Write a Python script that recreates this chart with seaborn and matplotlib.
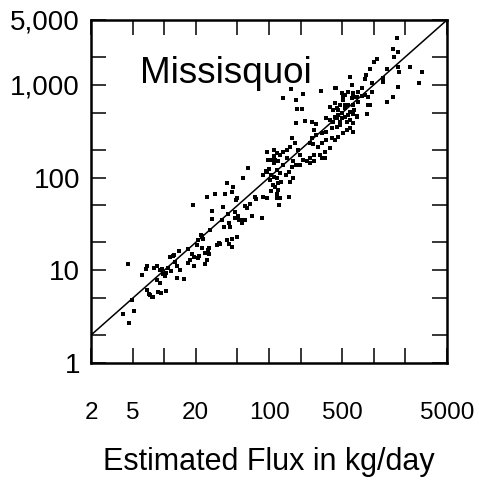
import numpy as np
import pandas as pd
import seaborn as sns
import matplotlib.pyplot as plt
from matplotlib.ticker import NullLocator

sns.set_style("ticks")
plt.rcParams['font.family'] = ['Liberation Sans', 'DejaVu Sans']
plt.rcParams['text.color'] = 'black'
plt.rcParams['axes.labelcolor'] = 'black'

est_flux = [
    # low end
    4.5, 4.0, 5.2, 4.6, 4.9, 6.2, 6.7, 6.9, 8.0, 8.5, 9.1, 9.6, 9.8, 10.2, 10.5,
    10.9, 11.7, 12.0, 11.3, 12.3, 12.8, 13.1, 13.9, 14.1, 8.5, 9.1, 6.9, 7.2, 7.3,
    7.6, 7.8, 8.8, 9.4, 10.5, 13.1, 15.4, 16.9, 16.9, 17.6, 18.3, 19.2, 19.4, 20.8,
    21.6, 22.7, 23.5, 22.2, 24.4, 25.4, 26.3, 24.4, 26.9, 31.7, 34,
    # middle
    18.9, 25.4, 28.3, 28.3, 30.5, 35.3, 36.6, 38.4, 39.4, 40.9, 41.7, 42.4, 44,
    45.6, 47.3, 48.4, 49.8, 51, 52.2, 53.6, 54.9, 56.8, 59, 61.4, 63.7, 65.8, 68.3,
    73.4, 75, 85, 88.3, 95, 96, 98, 94, 100, 104, 108, 114, 118, 122, 122, 118, 118,
    111, 111, 21.1, 22.7, 27.3, 20.4, 26.9, 33.5, 40.1, 41.7, 44, 49.4, 44, 47.3,
    59, 105, 118, 127, 155, 125, 37.1,
    # dense band
    161, 137, 181, 212, 311, 426, 493, 570, 637, 614, 686, 712, 511, 475, 382, 411,
    442, 531, 570, 592, 654, 697, 186, 205, 180, 220, 255, 353, 382, 426, 458, 493,
    531, 551, 592, 637, 475, 442, 395, 353, 318, 282, 271, 255, 246, 265, 294, 318,
    353, 395, 426, 458, 511, 551, 592, 637, 382, 341, 306, 271, 246, 228, 212, 197,
    190, 176, 165, 159, 147, 137, 127, 111, 105, 114, 122, 137, 147, 170, 180, 165,
    154, 144, 127, 118, 111, 102, 95, 88, 131, 159, 170, 197, 246, 271, 318, 341, 282,
    # high end
    1650, 1514, 1715, 1548, 1063, 1000, 919, 841, 820, 1324, 1715, 1738, 2214, 2862,
    2715, 1715, 1514, 1324, 1231, 1231, 954, 778, 712, 614, 592, 435, 531, 511, 637,
    767, 820, 884, 954, 919, 637, 531, 426, 458, 493, 570, 637, 686, 863, 404, 442,
    475, 874,
]
obs_flux = [
    # low end
    11.6, 3.4, 3.6, 2.7, 4.8, 8.9, 10.3, 11.2, 10.5, 11.2, 10.1, 10.3, 9.1, 8.6, 9.3,
    10.5, 9.7, 14.3, 14.0, 14.6, 12.2, 11.2, 16.3, 10.1, 7.9, 7.3, 6.1, 5.6, 5.4,
    5.2, 5.1, 5.8, 5.7, 6.0, 8.2, 8.1, 17.0, 11.9, 12.9, 14.9, 11.2, 14.0, 13.5,
    14.3, 17.3, 21.9, 23.8, 15.3, 12.9, 16.6, 11.7, 14.9, 18.6, 19.1,
    # middle
    50, 62, 44, 35.6, 67, 35, 48, 67, 87, 40, 32.7, 29.3, 69,
    80, 43, 57, 60, 38, 35, 35, 32, 98, 49, 47, 126, 52, 38,
    62, 58, 36.5, 62, 59.5, 190, 155, 119, 123, 107, 83, 80, 98, 73, 87, 59.5, 183,
    169, 143, 21, 23.2, 27, 18.6, 17.3, 19.6, 21.3, 19.2, 21.9, 22.7, 17.8, 36.5,
    35, 71, 67, 60, 62, 50, 29.3,
    # dense band
    900, 717, 687, 792, 860, 919, 812, 845, 812, 717, 747, 658, 687, 607, 580, 536,
    558, 558, 607, 515, 536, 454, 549, 549, 385, 408, 400, 436, 418, 454, 473, 436,
    454, 400, 418, 385, 369, 355, 340, 312, 300, 288, 326, 265, 234, 228, 215, 234,
    254, 265, 254, 276, 300, 326, 340, 312, 208, 190, 176, 176, 162, 149, 155, 176,
    199, 234, 265, 215, 199, 190, 176, 199, 155, 155, 149, 137, 162, 149, 137, 131,
    116, 107, 112, 121, 102, 94, 116, 107, 90, 90, 98, 137, 143, 150, 162, 162, 380,
    # high end
    3235, 2440, 2280, 2017, 1903, 1754, 1485, 1281, 1150, 1475, 1567, 1388, 1567, 1388,
    1058, 958, 747, 658, 1178, 1069, 1041, 919, 845, 997, 1228, 933, 778, 747, 730,
    758, 778, 747, 845, 607, 607, 607, 637, 536, 494, 473, 484, 462, 484, 400, 436,
    400, 607,
]

x_ticks = [2, 5, 10, 20, 50, 100, 200, 500, 1000, 2000, 5000]
x_tick_labels = ['2', '5', '', '20', '', '100', '', '500', '', '', '5000']
y_ticks = [1, 2, 5, 10, 20, 50, 100, 200, 500, 1000, 2000, 5000]
y_tick_labels = ['1', '', '', '10', '', '', '100', '', '', '1,000', '', '5,000']
one_to_one = [2, 5000]

df = pd.DataFrame({'est': est_flux, 'obs': obs_flux})

fig = plt.figure(figsize=(4.79, 4.91), dpi=100)
ax = fig.add_axes([0.19, 0.2607, 0.7432, 0.6986])

ax.plot(one_to_one, one_to_one, color='black', lw=1.1)
sns.scatterplot(data=df, x='est', y='obs', marker='s', s=8, color='black',
                linewidth=0, ax=ax, legend=False)

ax.set_xscale('log')
ax.set_yscale('log')
ax.set_xlim(2, 5000)
ax.set_ylim(1, 5000)

ax.set_xticks(x_ticks)
ax.set_xticklabels(x_tick_labels, fontsize=17.5)
ax.set_yticks(y_ticks)
ax.set_yticklabels(y_tick_labels, fontsize=20)
ax.xaxis.set_minor_locator(NullLocator())
ax.yaxis.set_minor_locator(NullLocator())
ax.tick_params(axis='both', which='major', direction='in', length=10.8, width=1.1,
               top=True, right=True, colors='black')
ax.tick_params(axis='x', pad=28)
ax.tick_params(axis='y', pad=7.9)

for s in ax.spines.values():
    s.set_linewidth(1.8)
    s.set_color('black')

ax.set_xlabel('Estimated Flux in kg/day', fontsize=22, labelpad=17, color='black')
ax.set_ylabel('')
ax.text(0.138, 0.816, 'Missisquoi', transform=ax.transAxes, fontsize=26.5,
        va='baseline', ha='left', color='black')

fig.savefig('out.png', dpi=100)
